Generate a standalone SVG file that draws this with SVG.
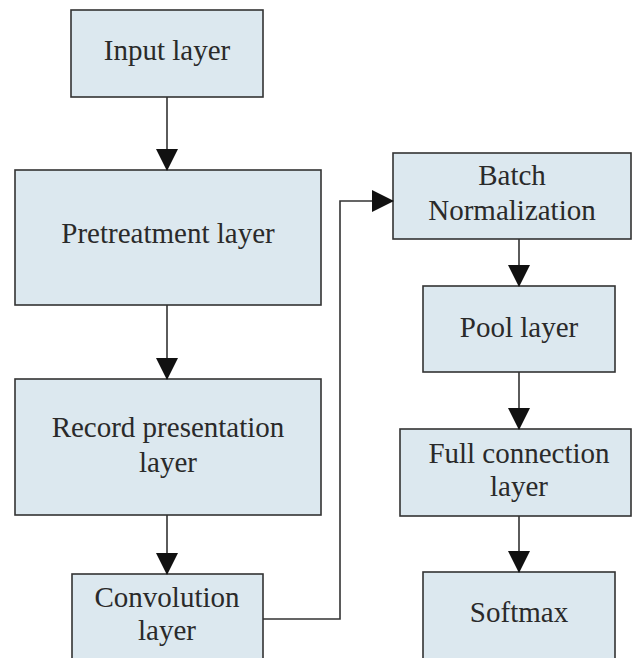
<svg xmlns="http://www.w3.org/2000/svg" width="639" height="658" viewBox="0 0 639 658">
  <style>
    .box { fill: #dce8ef; stroke: #333333; stroke-width: 1.6; }
    .lbl { font-family: "Liberation Serif", "Times New Roman", serif; font-size: 29px; fill: #2a2a2a; text-anchor: middle; }
    .wire { fill: none; stroke: #333333; stroke-width: 1.6; }
  </style>
  <defs>
    <marker id="arrow" markerUnits="userSpaceOnUse" markerWidth="22" markerHeight="22" refX="21" refY="11" orient="auto">
      <path d="M0,0 L22,11 L0,22 Z" fill="#111111"/>
    </marker>
  </defs>

  <rect x="0" y="0" width="639" height="658" fill="#ffffff"/>

  <g id="input">
    <rect class="box" x="71" y="10" width="192" height="87"/>
    <text class="lbl" x="167" y="60">Input layer</text>
  </g>
  <g id="pretreatment">
    <rect class="box" x="15" y="170" width="306" height="135"/>
    <text class="lbl" x="168" y="243">Pretreatment layer</text>
  </g>
  <g id="record">
    <rect class="box" x="15" y="379" width="306" height="136"/>
    <text class="lbl" x="168" y="437">Record presentation</text>
    <text class="lbl" x="168" y="472">layer</text>
  </g>
  <g id="convolution">
    <rect class="box" x="72" y="574" width="191" height="100"/>
    <text class="lbl" x="167" y="607">Convolution</text>
    <text class="lbl" x="167" y="640">layer</text>
  </g>
  <g id="batchnorm">
    <rect class="box" x="393" y="153" width="238" height="86"/>
    <text class="lbl" x="512" y="185">Batch</text>
    <text class="lbl" x="512" y="220">Normalization</text>
  </g>
  <g id="pool">
    <rect class="box" x="423" y="286" width="192" height="86"/>
    <text class="lbl" x="519" y="337">Pool layer</text>
  </g>
  <g id="fullconn">
    <rect class="box" x="400" y="429" width="231" height="87"/>
    <text class="lbl" x="519" y="463">Full connection</text>
    <text class="lbl" x="519" y="496">layer</text>
  </g>
  <g id="softmax">
    <rect class="box" x="423" y="572" width="192" height="100"/>
    <text class="lbl" x="519" y="622">Softmax</text>
  </g>

  <g id="connectors">
    <line class="wire" x1="167" y1="97" x2="167" y2="170" marker-end="url(#arrow)"/>
    <line class="wire" x1="167" y1="305" x2="167" y2="379" marker-end="url(#arrow)"/>
    <line class="wire" x1="167" y1="515" x2="167" y2="574" marker-end="url(#arrow)"/>
    <polyline class="wire" points="263,619 340,619 340,201 393,201" marker-end="url(#arrow)"/>
    <line class="wire" x1="519" y1="239" x2="519" y2="286" marker-end="url(#arrow)"/>
    <line class="wire" x1="519" y1="372" x2="519" y2="429" marker-end="url(#arrow)"/>
    <line class="wire" x1="519" y1="516" x2="519" y2="572" marker-end="url(#arrow)"/>
  </g>
</svg>
